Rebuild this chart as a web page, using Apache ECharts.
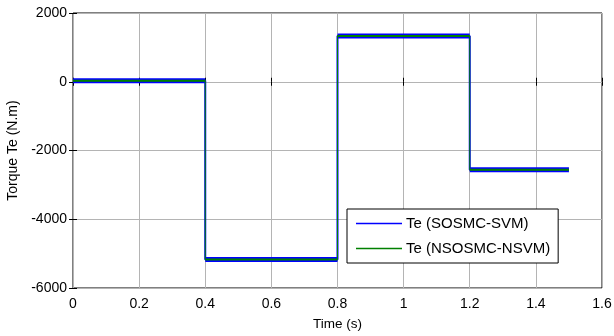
<!DOCTYPE html>
<html>
<head>
<meta charset="utf-8">
<script src="https://cdn.jsdelivr.net/npm/echarts@6/dist/echarts.min.js"></script>
<style>
  html, body { margin: 0; padding: 0; background: #fff; }
  #chart { width: 614px; height: 336px; }
</style>
</head>
<body>
<div id="chart"></div>
<script>
// step points: [time (s), torque (N.m)]
const timePoints = [0, 0.4, 0.4, 0.8, 0.8, 1.2, 1.2, 1.5];
const teSosmc = [30, 30, -5170, -5170, 1330, 1330, -2560, -2560];
const teNsosmc = [30, 30, -5170, -5170, 1330, 1330, -2560, -2560];
const xTicks = [0, 0.2, 0.4, 0.6, 0.8, 1, 1.2, 1.4, 1.6];
const yTicks = [-6000, -4000, -2000, 0, 2000];
const seriesNames = ["Te (SOSMC-SVM)", "Te (NSOSMC-NSVM)"];

const font = "Liberation Sans, Arial, sans-serif";
const toPairs = (vals) => timePoints.map((t, i) => [t, vals[i]]);

// flat parts of each curve: [t start, t end, value]
const flats = (vals) => {
  const out = [];
  for (let i = 0; i < timePoints.length; i += 2) out.push([timePoints[i], timePoints[i + 1], vals[i]]);
  return out;
};

const bandRenderer = (color, thick) => (params, api) => {
  const a = api.coord([api.value(0), api.value(2)]);
  const b = api.coord([api.value(1), api.value(2)]);
  return {
    type: "rect",
    shape: { x: a[0], y: a[1] - thick / 2, width: b[0] - a[0], height: thick },
    style: { fill: color },
  };
};

const chart = echarts.init(document.getElementById("chart"), null, { renderer: "canvas" });

const baseX = {
  type: "value",
  min: xTicks[0],
  max: xTicks[xTicks.length - 1],
  interval: 0.2,
  axisLine: { show: false },
  axisTick: { inside: true, length: 4, lineStyle: { color: "#000" } },
};
const baseY = {
  type: "value",
  min: yTicks[0],
  max: yTicks[yTicks.length - 1],
  interval: 2000,
  axisLine: { show: false },
  axisTick: { inside: true, length: 4, lineStyle: { color: "#000" } },
};

const option = {
  backgroundColor: "#fff",
  animation: false,
  grid: {
    left: 73,
    right: 12,
    top: 13,
    bottom: 48,
    outerBoundsMode: "none",
    containLabel: false,
    show: true,
    borderColor: "#000",
    borderWidth: 1,
    backgroundColor: "transparent",
  },
  legend: {
    orient: "vertical",
    left: 347,
    top: 209,
    data: seriesNames.map((name) => ({ name, icon: "rect" })),
    itemWidth: 46,
    itemHeight: 1.5,
    itemGap: 10,
    padding: [7, 8, 7, 9],
    borderColor: "#000",
    borderWidth: 1,
    backgroundColor: "#fff",
    textStyle: { fontFamily: font, fontSize: 15, color: "#000", padding: [0, 0, 0, -1] },
  },
  xAxis: [
    {
      ...baseX,
      position: "bottom",
      name: "Time (s)",
      nameLocation: "middle",
      nameGap: 29,
      nameTextStyle: { fontFamily: font, fontSize: 13.5, color: "#000" },
      axisLabel: {
        color: "#000",
        fontFamily: font,
        fontSize: 14,
        margin: 9,
        formatter: (v) => String(Math.round(v * 10) / 10),
      },
      splitLine: { show: true, lineStyle: { color: "#b4b4b4", width: 1 } },
    },
    {
      ...baseX,
      position: "top",
      axisLabel: { show: false },
      splitLine: { show: false },
    },
  ],
  yAxis: [
    {
      ...baseY,
      position: "left",
      name: "Torque Te (N.m)",
      nameLocation: "middle",
      nameGap: 53,
      nameTextStyle: { fontFamily: font, fontSize: 14, color: "#000" },
      axisLabel: {
        color: "#000",
        fontFamily: font,
        fontSize: 14,
        margin: 6,
        formatter: (v) => String(v),
      },
      splitLine: { show: true, lineStyle: { color: "#b4b4b4", width: 1 } },
    },
    {
      ...baseY,
      position: "right",
      axisLabel: { show: false },
      splitLine: { show: false },
    },
  ],
  series: [
    {
      name: seriesNames[0],
      type: "line",
      data: toPairs(teSosmc),
      showSymbol: false,
      color: "#0000ff",
      lineStyle: { width: 2, color: "#0000ff" },
      z: 3,
    },
    {
      name: "sosmc band",
      type: "custom",
      silent: true,
      z: 4,
      data: flats(teSosmc),
      renderItem: bandRenderer("#0000ff", 5),
    },
    {
      name: seriesNames[1],
      type: "line",
      data: toPairs(teNsosmc),
      showSymbol: false,
      color: "#008000",
      lineStyle: { width: 1, color: "#008000" },
      z: 5,
    },
    {
      name: "nsosmc band",
      type: "custom",
      silent: true,
      z: 6,
      data: flats(teNsosmc),
      renderItem: bandRenderer("#008000", 2),
    },
  ],
};

chart.setOption(option);
</script>
</body>
</html>
